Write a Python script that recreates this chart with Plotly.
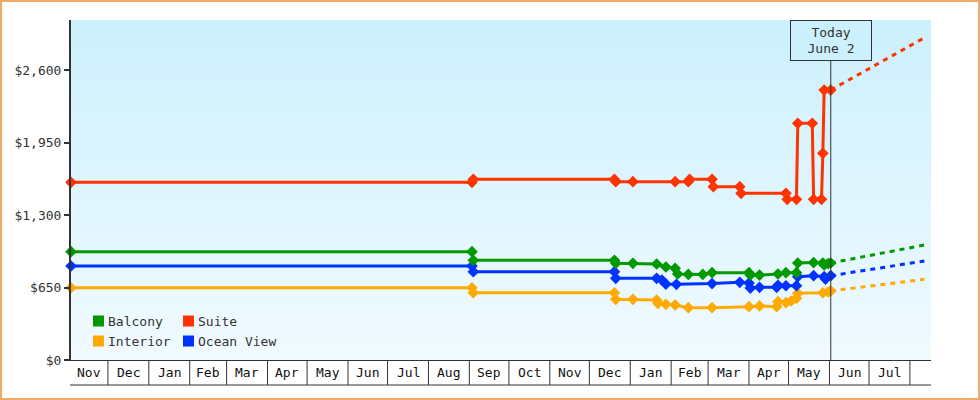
import plotly.graph_objects as go
import pandas as pd

# ------------------------------------------------------------------ data
y_tick_values = [0, 650, 1300, 1950, 2600]
y_tick_labels = ["$0", "$650", "$1,300", "$1,950", "$2,600"]

series_names = ["Balcony", "Suite", "Interior", "Ocean View"]
series_colors = ["#009900", "#ff3300", "#ffaa00", "#0033ff"]

suite_dates = ["2020-11-03", "2021-09-03", "2021-09-04", "2021-12-20", "2021-12-21",
               "2022-01-03", "2022-02-04", "2022-02-14", "2022-02-15", "2022-03-04",
               "2022-03-05", "2022-03-25", "2022-03-26", "2022-04-29", "2022-04-30",
               "2022-05-07", "2022-05-08", "2022-05-19", "2022-05-20", "2022-05-26",
               "2022-05-27", "2022-05-28", "2022-06-02"]
suite_prices = [1593, 1593, 1620, 1620, 1599,
                1599, 1599, 1599, 1620, 1620,
                1554, 1554, 1495, 1495, 1441,
                1441, 2122, 2122, 1441, 1441,
                1853, 2421, 2421]

balcony_dates = ["2020-11-03", "2021-09-03", "2021-09-04", "2021-12-20", "2021-12-21",
                 "2022-01-03", "2022-01-21", "2022-01-28", "2022-02-04", "2022-02-06",
                 "2022-02-14", "2022-02-25", "2022-03-04", "2022-04-01", "2022-04-02",
                 "2022-04-09", "2022-04-23", "2022-04-29", "2022-05-07", "2022-05-08",
                 "2022-05-20", "2022-05-27", "2022-05-28", "2022-05-31", "2022-06-02"]
balcony_prices = [971, 971, 894, 894, 867,
                  867, 861, 834, 822, 771,
                  767, 767, 783, 783, 762,
                  762, 771, 783, 783, 870,
                  874, 870, 852, 865, 870]

ocean_dates = ["2020-11-03", "2021-09-03", "2021-09-04", "2021-12-20", "2021-12-21",
               "2022-01-21", "2022-01-25", "2022-01-28", "2022-02-05", "2022-03-04",
               "2022-03-25", "2022-04-01", "2022-04-02", "2022-04-09", "2022-04-22",
               "2022-04-23", "2022-04-29", "2022-05-07", "2022-05-08", "2022-05-20",
               "2022-05-28", "2022-05-29", "2022-06-02"]
ocean_prices = [843, 843, 792, 792, 732,
                732, 717, 681, 679, 685,
                697, 690, 645, 652, 652,
                670, 666, 666, 747, 756,
                747, 726, 756]

interior_dates = ["2020-11-03", "2021-09-03", "2021-09-04", "2021-12-20", "2021-12-21",
                  "2022-01-03", "2022-01-21", "2022-01-22", "2022-01-28", "2022-02-04",
                  "2022-02-14", "2022-03-04", "2022-04-01", "2022-04-09", "2022-04-22",
                  "2022-04-23", "2022-04-29", "2022-05-03", "2022-05-07", "2022-05-08",
                  "2022-05-27", "2022-05-31", "2022-06-02"]
interior_prices = [648, 648, 603, 603, 544,
                   544, 538, 508, 499, 493,
                   469, 469, 478, 485, 478,
                   523, 514, 529, 553, 598,
                   603, 610, 619]

forecast_dates = ["2022-06-02", "2022-08-12"]
suite_forecast = [2421, 2890]
balcony_forecast = [870, 1031]
ocean_forecast = [756, 888]
interior_forecast = [619, 724]

today_date = "2022-06-02"
today_lines = ["Today", "June 2"]
x_start, x_end = "2020-11-03", "2022-08-17"
y_max = 3049

# ------------------------------------------------------------------ layout constants
W, H = 980, 400
ML, MR, MT, MB = 71, 49, 20, 40
PW, PH = W - ML - MR, H - MT - MB
FONT = "DejaVu Sans Mono"
AXIS = "#333333"


def px_x(p):
    return (p - ML) / PW


def px_y(p):
    return (H - MB - p) / PH


fig = go.Figure()

draw = [
    ("Interior", interior_dates, interior_prices, interior_forecast),
    ("Ocean View", ocean_dates, ocean_prices, ocean_forecast),
    ("Balcony", balcony_dates, balcony_prices, balcony_forecast),
    ("Suite", suite_dates, suite_prices, suite_forecast),
]
color_of = dict(zip(series_names, series_colors))
for name, d, v, fc in draw:
    c = color_of[name]
    fig.add_trace(go.Scatter(x=forecast_dates, y=fc, mode="lines", showlegend=False,
                             line=dict(color=c, width=3, dash="5px,5px"), hoverinfo="skip"))
    fig.add_trace(go.Scatter(x=d, y=v, mode="lines+markers", name=name, showlegend=False,
                             cliponaxis=False,
                             line=dict(color=c, width=3),
                             marker=dict(symbol="diamond", size=9, color=c)))

shapes = []
# gradient background
top = (204, 240, 253)
bot = (241, 250, 255)
N = 68
for i in range(N):
    t = i / (N - 1)
    col = tuple(round(top[k] + (bot[k] - top[k]) * t) for k in range(3))
    shapes.append(dict(type="rect", xref="paper", yref="paper", layer="below",
                       x0=0, x1=1, y0=1 - (i + 1) / N, y1=1 - i / N,
                       fillcolor="rgb(%d,%d,%d)" % col, line=dict(width=0)))

# month boxes under the axis
rs, re_ = pd.Timestamp(x_start), pd.Timestamp(x_end)
month_starts = pd.date_range("2020-11-01", "2022-09-01", freq="MS")
row_bottom = px_y(H - MB + 25)
annotations = []
for i, m in enumerate(month_starts[:-1]):
    nxt = month_starts[i + 1]
    if rs < m < re_:
        shapes.append(dict(type="line", xref="x", yref="paper", x0=m, x1=m,
                           y0=0, y1=row_bottom, line=dict(color=AXIS, width=1)))
    a, b = max(m, rs), min(nxt, re_)
    if (b - a).days >= 20:
        mid = a + (b - a) / 2
        annotations.append(dict(x=mid, y=row_bottom / 2, xref="x", yref="paper",
                                text=m.strftime("%b"), showarrow=False,
                                xanchor="center", yanchor="middle",
                                font=dict(family=FONT, size=13, color="#111111")))
shapes.append(dict(type="line", xref="paper", yref="paper", x0=px_x(70), x1=1,
                   y0=row_bottom, y1=row_bottom, line=dict(color=AXIS, width=1)))

# today line
shapes.append(dict(type="line", xref="x", yref="paper", x0=today_date, x1=today_date,
                   y0=0, y1=1, layer="above", line=dict(color=AXIS, width=1)))
annotations.append(dict(x=today_date, y=1, xref="x", yref="paper", xanchor="center",
                        yanchor="top", text="<br>".join(today_lines), showarrow=False,
                        bordercolor=AXIS, borderwidth=1, borderpad=2,
                        bgcolor="rgb(%d,%d,%d)" % top, width=76, height=35,
                        font=dict(family=FONT, size=13, color=AXIS)))

# legend (2 x 2 grid)
legend_cols = [93, 183]
legend_rows = [321, 341]
for idx, name in enumerate(series_names):
    cx = legend_cols[idx % 2]
    cy = legend_rows[idx // 2]
    shapes.append(dict(type="rect", xref="paper", yref="paper",
                       x0=px_x(cx), x1=px_x(cx + 11), y0=px_y(cy + 5.5), y1=px_y(cy - 5.5),
                       fillcolor=color_of[name], line=dict(width=0), layer="above"))
    annotations.append(dict(x=px_x(cx + 13), y=px_y(cy), xref="paper", yref="paper",
                            xanchor="left", yanchor="middle", text=name, showarrow=False,
                            font=dict(family=FONT, size=13, color=AXIS)))

# outer border
shapes.append(dict(type="rect", xref="paper", yref="paper",
                   x0=px_x(1), x1=px_x(W - 1), y0=px_y(H - 1), y1=px_y(1),
                   line=dict(color="#eeaa66", width=2), fillcolor="rgba(0,0,0,0)"))

fig.update_layout(
    width=W, height=H,
    margin=dict(l=ML, r=MR, t=MT, b=MB),
    paper_bgcolor="white",
    plot_bgcolor="rgb(%d,%d,%d)" % bot,
    shapes=shapes,
    annotations=annotations,
    showlegend=False,
    font=dict(family=FONT, size=13, color=AXIS),
    xaxis=dict(type="date", range=[x_start, x_end], showgrid=False, zeroline=False,
               showticklabels=False, ticks="", showline=True, linewidth=1, linecolor=AXIS),
    yaxis=dict(range=[0, y_max], tickvals=y_tick_values, ticktext=y_tick_labels,
               showgrid=False, zeroline=False, ticks="outside", ticklen=5, tickwidth=2,
               tickcolor=AXIS, showline=True, linewidth=2, linecolor=AXIS,
               tickfont=dict(family=FONT, size=13, color=AXIS)),
)

fig.write_html("out.html")
